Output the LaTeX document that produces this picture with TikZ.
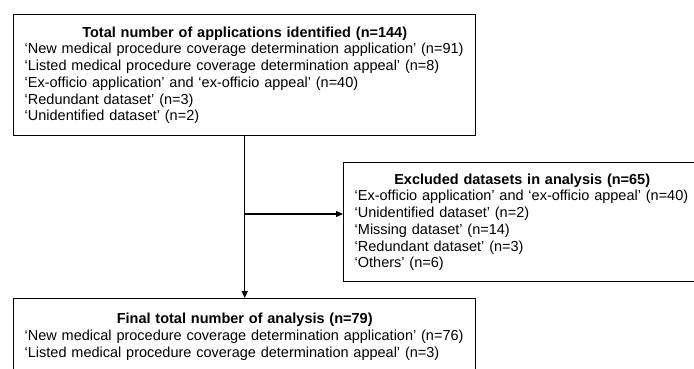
\documentclass[tikz,border=0pt]{standalone}
\usepackage{fontspec}
\setmainfont{Liberation Sans}
\usetikzlibrary{arrows.meta}

\begin{document}
\begin{tikzpicture}[x=1pt, y=-1pt,
  box/.style={draw, line width=1.4pt, anchor=north west, align=left, inner ysep=0pt,
    font=\fontsize{14.5}{16.7}\selectfont},
  link/.style={line width=1.4pt, -{Triangle[length=7pt,width=6pt]}}]
\useasboundingbox (0,0) rectangle (694,369);
\clip (0,0) rectangle (694,369);
\node[box, text width=440pt, inner xsep=11pt, minimum height=121pt] (total) at (13,14)
  {\makebox[\hsize]{\bfseries Total number of applications identified (n=144)}\\
   `New medical procedure coverage determination application' (n=91)\\
   `Listed medical procedure coverage determination appeal' (n=8)\\
   `Ex-officio application' and `ex-officio appeal' (n=40)\\
   `Redundant dataset' (n=3)\\
   `Unidentified dataset' (n=2)};
\node[box, text width=335pt, inner xsep=11pt, minimum height=119pt] (excl) at (343,162)
  {\makebox[\hsize]{\bfseries Excluded datasets in analysis (n=65)}\\
   `Ex-officio application' and `ex-officio appeal' (n=40)\\
   `Unidentified dataset' (n=2)\\
   `Missing dataset' (n=14)\\
   `Redundant dataset' (n=3)\\
   `Others' (n=6)};
\node[box, text width=440pt, inner xsep=11pt, minimum height=76pt] (final) at (13,298)
  {\makebox[\hsize]{\bfseries Final total number of analysis (n=79)}\\
   `New medical procedure coverage determination application' (n=76)\\
   `Listed medical procedure coverage determination appeal' (n=3)};
\coordinate (split) at (total.south |- 0,214);
\draw[link] (total.south) -- (final.north);
\draw[link] (split) -- (split -| excl.west);
\end{tikzpicture}
\end{document}
